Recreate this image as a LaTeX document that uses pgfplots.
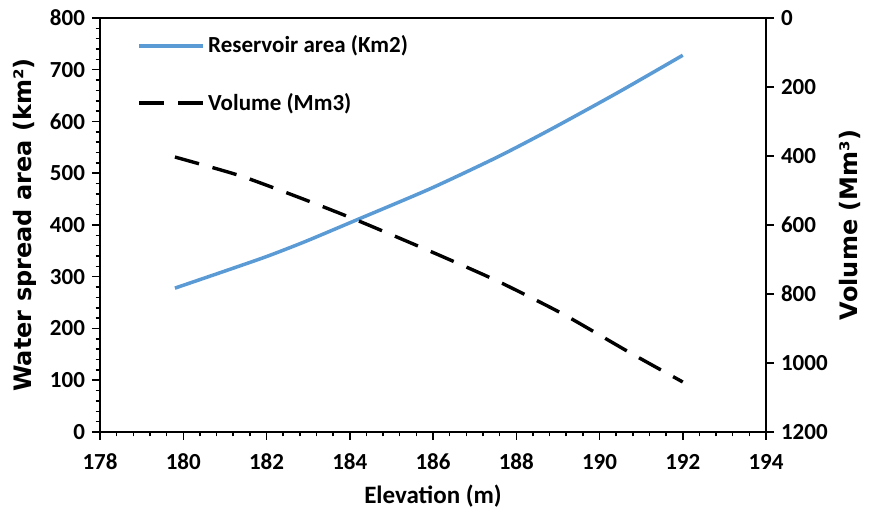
\documentclass[border=0pt]{standalone}
\usepackage{fontspec}
\setmainfont{Carlito}
\newfontfamily\labfont{DejaVu Sans}
\usepackage{pgfplots}
\pgfplotsset{compat=1.18}
\definecolor{areablue}{RGB}{91,155,213}
\pgfplotstableread{
x y
179.8 278
181.0 311
182.0 339
182.93 368
184.17 410
185.93 470
187.54 531
188.81 584
190.42 655
192.0 728
}\areatable
\pgfplotstableread{
x y
179.8 403
181.36 457
182.8 521
184.17 586
185.93 676
187.54 762
189.12 858
190.73 970
192.0 1055
}\voltable
\pgfplotsset{
  common/.style={
    scale only axis, width=333pt, height=207pt,
    at={(0,0)}, anchor=south west,
    xmin=178, xmax=194,
    tick align=outside,
    major tick length=4pt, minor tick length=2.2pt,
    every tick/.style={black, line width=0.75pt},
    axis line style={line width=0.75pt},
    tick label style={font=\fontsize{11.5}{13}\selectfont\bfseries},
    /pgf/number format/assume math mode=true,
    /pgf/number format/1000 sep={},
  }
}
\begin{document}
\begin{tikzpicture}
\useasboundingbox (-50pt,-42.5pt) rectangle (385pt,216pt);
\begin{axis}[common,
  ymin=0, ymax=800,
  xtick={178,180,...,194}, ytick={0,100,...,800},
  minor x tick num=4, minor y tick num=4,
  xtick pos=bottom, ytick pos=left,
  xticklabel style={yshift=-3.5pt},
  xlabel={Elevation (m)},
  ylabel={Water spread area (km²)},
  xlabel style={font=\fontsize{12.5}{14}\selectfont\bfseries, at={(axis description cs:0.5,-0.155)}, anchor=center},
  ylabel style={font=\labfont\fontsize{12}{14}\selectfont\bfseries, at={(axis description cs:-0.1126,0.5)}, anchor=center},
]
\addplot[areablue, line width=1.75pt, smooth, tension=0.4] table[x=x,y=y] {\areatable};
\end{axis}
\begin{axis}[common,
  ymin=0, ymax=1200, y dir=reverse,
  axis x line=none, axis y line*=right,
  ytick={0,200,...,1200}, ytick pos=right,
  ylabel={Volume (Mm³)},
  ylabel style={font=\labfont\fontsize{12}{14}\selectfont\bfseries, at={(axis description cs:1.126,0.5)}, anchor=center},
  legend style={at={(axis description cs:0.056,0.965)}, anchor=north west, draw=none, fill=none,
    inner sep=0pt, row sep=15.5pt, font=\fontsize{11.5}{13}\selectfont\bfseries,
    nodes={inner sep=1.5pt}},
  legend cell align=left,
  legend image code/.code={\draw[#1] (0pt,0pt) -- (32pt,0pt);},
]
\addlegendimage{areablue, line width=1.75pt}
\addlegendentry{Reservoir area (Km2)}
\addplot[black, line width=1.7pt, dash pattern=on 12.5pt off 7pt, smooth, tension=0.4] table[x=x,y=y] {\voltable};
\addlegendentry{Volume (Mm3)}
\end{axis}
\end{tikzpicture}
\end{document}
